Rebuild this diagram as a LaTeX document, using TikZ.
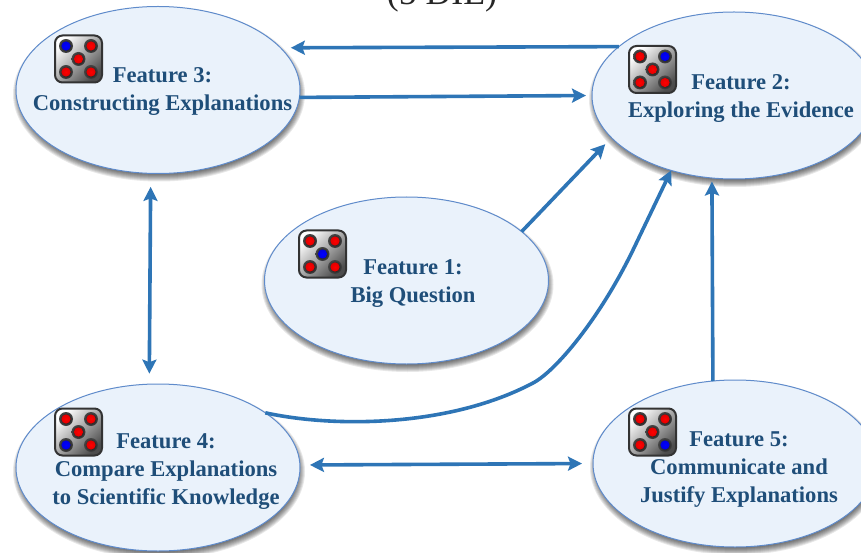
\documentclass[tikz,border=0pt]{standalone}
\usepackage{fontspec}
\setmainfont{Liberation Serif}
\usetikzlibrary{arrows.meta,shapes.geometric}
\definecolor{linkblue}{HTML}{2E75B6}
\definecolor{textblue}{HTML}{1F4E79}
\definecolor{ringblue}{HTML}{5F8BCB}
\definecolor{bubble}{HTML}{EAF2FB}
\tikzset{
  bubblenode/.style={ellipse,draw=ringblue,line width=1pt,fill=bubble,minimum width=284pt,minimum height=167pt,inner sep=0pt,outer sep=0pt},
  labeltext/.style={text=textblue,align=center,font=\fontsize{22.6}{28}\selectfont\bfseries,inner sep=0pt},
  link/.style={draw=linkblue,line width=3.6pt},
  onehead/.style={link,-{Stealth[length=14pt,width=14pt,inset=2.5pt]}},
  twohead/.style={link,{Stealth[length=14pt,width=14pt,inset=2.5pt]}-{Stealth[length=14pt,width=14pt,inset=2.5pt]}},
  pics/die/.style n args={5}{code={
    \draw[rounded corners=7.5pt,line width=2pt,draw=black!80,top color=white,middle color=black!12,bottom color=black!70,shading angle=45] (-23.5,-23.5) rectangle (23.5,23.5);
    \foreach \px/\py/\pc in {-12.5/-13/#1,12.5/-13/#2,0/0/#3,-12.5/13/#4,12.5/13/#5}{
      \shade[inner color=black,outer color=black!72] (\px,\py) circle (7pt);
      \shade[inner color=\pc,outer color=\pc!88!black] (\px,\py) circle (4.6pt);
    }
  }}
}
\newcommand{\softshadow}[2]{%
  \foreach \sg in {-4,-3,-2,-1,0,1,2,3,4}{
    \fill[black,opacity=.09] (#1+1,#2+4) ellipse [x radius=142pt+\sg pt,y radius=83.5pt+\sg pt];
  }%
}
\begin{document}
\begin{tikzpicture}[x=1pt,y=-1pt]
\useasboundingbox (0,0) rectangle (861,553);
\clip (0,0) rectangle (861,553);
\fill[white] (0,0) rectangle (861,553);
\node[anchor=base,font=\fontsize{35.7}{36}\selectfont,text=black!85,inner sep=0pt] (title) at (442,5) {(5 DIE)};
\softshadow{158}{90}
\softshadow{734}{95.5}
\softshadow{406.5}{280.5}
\softshadow{158}{467.5}
\softshadow{735}{463.5}
\node[bubblenode] (e3) at (158,90) {};
\node[bubblenode] (e2) at (734,95.5) {};
\node[bubblenode] (e1) at (406.5,280.5) {};
\node[bubblenode] (e4) at (158,467.5) {};
\node[bubblenode] (e5) at (735,463.5) {};
\pic at (78.5,59) {die={blue}{red}{red}{red}{red}};
\pic at (652.5,69.5) {die={red}{blue}{red}{red}{red}};
\pic at (322.5,254) {die={red}{red}{blue}{red}{red}};
\pic at (78.5,432) {die={red}{red}{red}{blue}{red}};
\pic at (652.5,432) {die={red}{red}{red}{red}{blue}};
\node[labeltext] (t3) at (162.5,92) {Feature 3:\\Constructing Explanations};
\node[labeltext] (t2) at (741,99) {Feature 2:\\Exploring the Evidence};
\node[labeltext] (t1) at (413,284) {Feature 1:\\Big Question};
\node[labeltext] (t4) at (166,472) {Feature 4:\\Compare Explanations\\to Scientific Knowledge};
\node[labeltext] (t5) at (739,470) {Feature 5:\\Communicate and\\Justify Explanations};
\draw[onehead,shorten >=10.3pt] (e2.157.7) -- (e3.19.9);
\draw[onehead,shorten >=6pt] (e3.-3.1) -- (e2.180.2);
\draw[onehead,shorten >=9pt] (e1.23.6) -- (e2.199.5);
\draw[onehead] (e4.27.6) .. controls (335,428) and (450,427) .. (533,383) .. controls (556,371) and (600,318) .. (633,250) -- (e2.230.9);
\draw[onehead,shorten >=3.5pt] (e5.105.6) -- (e2.255.7);
\draw[twohead,shorten <=13.5pt,shorten >=10.5pt] (e3.265.9) -- (e4.96.2);
\draw[twohead,shorten <=10pt,shorten >=11pt] (e4.1.2) -- (e5.180.8);
\end{tikzpicture}
\end{document}
